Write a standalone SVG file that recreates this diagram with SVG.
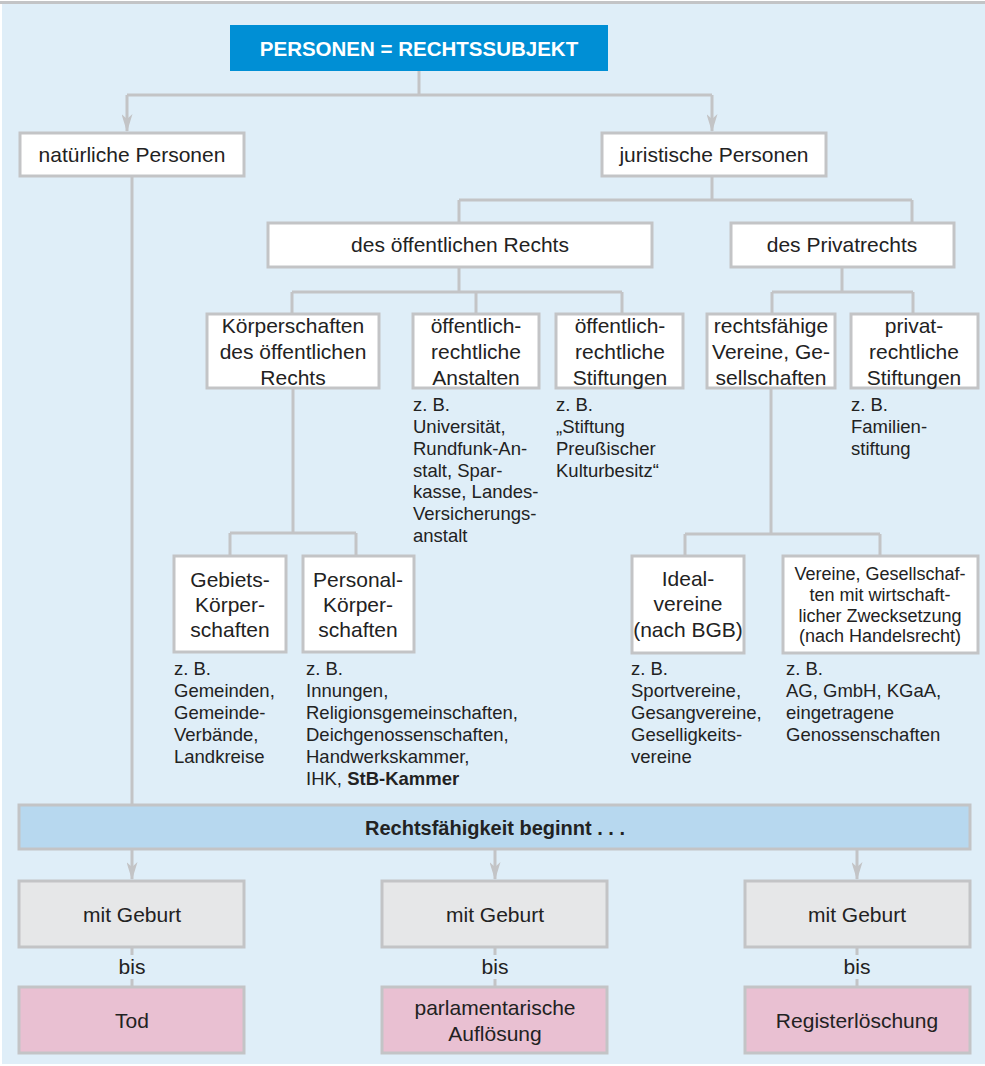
<svg xmlns="http://www.w3.org/2000/svg" width="985" height="1066" viewBox="0 0 985 1066">
  <style>
    .bg { fill: #dfeef8; }
    .box { fill: #ffffff; stroke: #c3c4c6; stroke-width: 3; }
    .grey { fill: #e6e7e8; stroke: #c3c4c6; stroke-width: 3; }
    .pink { fill: #e9c0d2; stroke: #c3c4c6; stroke-width: 3; }
    .bar { fill: #b7d8ef; stroke: #c3c4c6; stroke-width: 3; }
    .conn { fill: none; stroke: #c3c4c6; stroke-width: 3; }
    text { font-family: "Liberation Sans", Arial, sans-serif; fill: #222222; }
    .lbl { font-size: 21px; text-anchor: middle; }
    .sml { font-size: 18px; text-anchor: middle; }
    .note { font-size: 18.5px; }
    .title { font-size: 20.5px; font-weight: bold; fill: #ffffff; text-anchor: middle; }
    .bold { font-weight: bold; }
  </style>
  <defs>
    <marker id="arrow" markerUnits="userSpaceOnUse" markerWidth="18" markerHeight="11" viewBox="0 0 18 11" refX="17" refY="5.5" orient="auto">
      <path d="M0,0 L18,5.5 L0,11 L5,5.5 z" fill="#c3c4c6"/>
    </marker>
  </defs>

  <!-- background panel -->
  <rect class="bg" x="2" y="3" width="983" height="1061"/>
  <rect x="0" y="1" width="985" height="3" fill="#c3c4c6"/>

  <!-- connectors -->
  <g id="connectors">
    <path class="conn" d="M419,71 V95 M127,95 H712"/>
    <path class="conn" d="M127,95 V131" marker-end="url(#arrow)"/>
    <path class="conn" d="M712,95 V131" marker-end="url(#arrow)"/>
    <path class="conn" d="M132,176 V805"/>
    <path class="conn" d="M712,176 V200 M459,200 H912 M459,200 V223 M912,200 V223"/>
    <path class="conn" d="M459,267 V292 M292,292 H622 M292,292 V314 M476,292 V314 M622,292 V314"/>
    <path class="conn" d="M293,388 V533 M230,533 H356 M230,533 V556 M356,533 V556"/>
    <path class="conn" d="M842,267 V292 M772,292 H913 M772,292 V314 M913,292 V314"/>
    <path class="conn" d="M771,388 V534 M685,534 H880 M685,534 V556 M880,534 V556"/>
    <path class="conn" d="M132,849 V879" marker-end="url(#arrow)"/>
    <path class="conn" d="M495,849 V879" marker-end="url(#arrow)"/>
    <path class="conn" d="M857,849 V879" marker-end="url(#arrow)"/>
    <path class="conn" d="M132,947 V955 M132,979 V987 M495,947 V955 M495,979 V987 M857,947 V955 M857,979 V987"/>
  </g>

  <g id="personen">
    <rect x="230" y="25" width="378" height="46" fill="#008fd5"/>
    <text class="title" x="419" y="56">PERSONEN = RECHTSSUBJEKT</text>
  </g>

  <g id="natuerliche">
    <rect class="box" x="20" y="133" width="224" height="43"/>
    <text class="lbl" x="132" y="162">natürliche Personen</text>
  </g>

  <g id="juristische">
    <rect class="box" x="602" y="133" width="224" height="43"/>
    <text class="lbl" x="714" y="162">juristische Personen</text>
  </g>

  <g id="oeffentlich">
    <rect class="box" x="268" y="223" width="384" height="44"/>
    <text class="lbl" x="460" y="252">des öffentlichen Rechts</text>
  </g>

  <g id="privat">
    <rect class="box" x="731" y="223" width="223" height="44"/>
    <text class="lbl" x="842" y="252">des Privatrechts</text>
  </g>

  <g id="koerperschaften">
    <rect class="box" x="207" y="314" width="172" height="74"/>
    <text class="lbl" x="293" y="333">Körperschaften</text>
    <text class="lbl" x="293" y="359">des öffentlichen</text>
    <text class="lbl" x="293" y="385">Rechts</text>
  </g>

  <g id="anstalten">
    <rect class="box" x="413" y="314" width="126" height="74"/>
    <text class="lbl" x="476" y="333">öffentlich-</text>
    <text class="lbl" x="476" y="359">rechtliche</text>
    <text class="lbl" x="476" y="385">Anstalten</text>
    <text class="note" x="413" y="411">z. B.</text>
    <text class="note" x="413" y="433">Universität,</text>
    <text class="note" x="413" y="455">Rundfunk-An-</text>
    <text class="note" x="413" y="477">stalt, Spar-</text>
    <text class="note" x="413" y="498">kasse, Landes-</text>
    <text class="note" x="413" y="520">Versicherungs-</text>
    <text class="note" x="413" y="542">anstalt</text>
  </g>

  <g id="stiftungen">
    <rect class="box" x="556" y="314" width="127" height="74"/>
    <text class="lbl" x="620" y="333">öffentlich-</text>
    <text class="lbl" x="620" y="359">rechtliche</text>
    <text class="lbl" x="620" y="385">Stiftungen</text>
    <text class="note" x="556" y="411">z. B.</text>
    <text class="note" x="556" y="433">„Stiftung</text>
    <text class="note" x="556" y="455">Preußischer</text>
    <text class="note" x="556" y="477">Kulturbesitz“</text>
  </g>

  <g id="rechtsfaehige">
    <rect class="box" x="707" y="314" width="128" height="74"/>
    <text class="lbl" x="771" y="333">rechtsfähige</text>
    <text class="lbl" x="771" y="359">Vereine, Ge-</text>
    <text class="lbl" x="771" y="385">sellschaften</text>
  </g>

  <g id="privatstiftungen">
    <rect class="box" x="851" y="314" width="127" height="74"/>
    <text class="lbl" x="914" y="333">privat-</text>
    <text class="lbl" x="914" y="359">rechtliche</text>
    <text class="lbl" x="914" y="385">Stiftungen</text>
    <text class="note" x="851" y="411">z. B.</text>
    <text class="note" x="851" y="433">Familien-</text>
    <text class="note" x="851" y="455">stiftung</text>
  </g>

  <g id="gebiet">
    <rect class="box" x="174" y="556" width="112" height="96"/>
    <text class="lbl" x="230" y="587">Gebiets-</text>
    <text class="lbl" x="230" y="612">Körper-</text>
    <text class="lbl" x="230" y="637">schaften</text>
    <text class="note" x="174" y="675">z. B.</text>
    <text class="note" x="174" y="697">Gemeinden,</text>
    <text class="note" x="174" y="719">Gemeinde-</text>
    <text class="note" x="174" y="741">Verbände,</text>
    <text class="note" x="174" y="763">Landkreise</text>
  </g>

  <g id="personal">
    <rect class="box" x="303" y="556" width="111" height="96"/>
    <text class="lbl" x="358" y="587">Personal-</text>
    <text class="lbl" x="358" y="612">Körper-</text>
    <text class="lbl" x="358" y="637">schaften</text>
    <text class="note" x="306" y="675">z. B.</text>
    <text class="note" x="306" y="697">Innungen,</text>
    <text class="note" x="306" y="719">Religionsgemeinschaften,</text>
    <text class="note" x="306" y="741">Deichgenossenschaften,</text>
    <text class="note" x="306" y="763">Handwerkskammer,</text>
    <text class="note" x="306" y="785">IHK, <tspan class="bold">StB-Kammer</tspan></text>
  </g>

  <g id="idealvereine">
    <rect class="box" x="632" y="556" width="112" height="97"/>
    <text class="lbl" x="688" y="586">Ideal-</text>
    <text class="lbl" x="688" y="611">vereine</text>
    <text class="lbl" x="688" y="637">(nach BGB)</text>
    <text class="note" x="631" y="675">z. B.</text>
    <text class="note" x="631" y="697">Sportvereine,</text>
    <text class="note" x="631" y="719">Gesangvereine,</text>
    <text class="note" x="631" y="741">Geselligkeits-</text>
    <text class="note" x="631" y="763">vereine</text>
  </g>

  <g id="wirtschaftlich">
    <rect class="box" x="783" y="556" width="195" height="97"/>
    <text class="sml" x="880" y="580">Vereine, Gesellschaf-</text>
    <text class="sml" x="880" y="601">ten mit wirtschaft-</text>
    <text class="sml" x="880" y="622">licher Zwecksetzung</text>
    <text class="sml" x="880" y="642">(nach Handelsrecht)</text>
    <text class="note" x="786" y="675">z. B.</text>
    <text class="note" x="786" y="697">AG, GmbH, KGaA,</text>
    <text class="note" x="786" y="719">eingetragene</text>
    <text class="note" x="786" y="741">Genossenschaften</text>
  </g>

  <g id="rechtsfaehigkeit">
    <rect class="bar" x="19" y="805" width="951" height="44"/>
    <text class="lbl bold" x="495" y="835" style="font-size:20px">Rechtsfähigkeit beginnt . . .</text>
  </g>

  <g id="geburt1">
    <rect class="grey" x="19" y="881" width="225" height="66"/>
    <text class="lbl" x="132" y="922">mit Geburt</text>
  </g>
  <g id="geburt2">
    <rect class="grey" x="382" y="881" width="225" height="66"/>
    <text class="lbl" x="495" y="922">mit Geburt</text>
  </g>
  <g id="geburt3">
    <rect class="grey" x="745" y="881" width="225" height="66"/>
    <text class="lbl" x="857" y="922">mit Geburt</text>
  </g>

  <g id="bis-labels">
    <text class="lbl" x="132" y="974">bis</text>
    <text class="lbl" x="495" y="974">bis</text>
    <text class="lbl" x="857" y="974">bis</text>
  </g>

  <g id="tod">
    <rect class="pink" x="19" y="987" width="225" height="66"/>
    <text class="lbl" x="132" y="1028">Tod</text>
  </g>
  <g id="aufloesung">
    <rect class="pink" x="382" y="987" width="225" height="66"/>
    <text class="lbl" x="495" y="1015">parlamentarische</text>
    <text class="lbl" x="495" y="1041">Auflösung</text>
  </g>
  <g id="registerloeschung">
    <rect class="pink" x="745" y="987" width="225" height="66"/>
    <text class="lbl" x="857" y="1028">Registerlöschung</text>
  </g>
</svg>
